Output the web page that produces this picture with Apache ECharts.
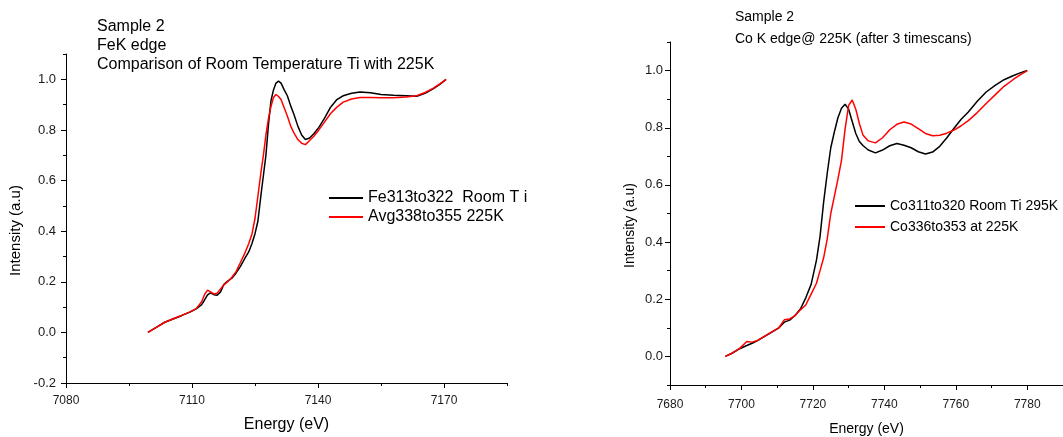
<!DOCTYPE html>
<html>
<head>
<meta charset="utf-8">
<script src="https://cdn.jsdelivr.net/npm/echarts@6/dist/echarts.min.js"></script>
<style>
html,body{margin:0;padding:0;background:#fff;}
#chart{width:1063px;height:437px;}
</style>
</head>
<body>
<div id="chart"></div>
<script>
// ---- Left chart: Fe K edge ----
const feEnergy = [7099.5, 7101.5, 7103.5, 7105.5, 7107.5, 7109.5, 7111, 7112.3, 7113, 7113.7, 7114.4, 7115.2, 7116, 7116.8, 7117.6, 7118.5, 7119.5, 7120.5, 7121.5, 7122.5, 7123.5, 7124.3, 7125, 7125.7, 7126.4, 7127, 7127.6, 7128.2, 7128.8, 7129.4, 7130, 7130.6, 7131.2, 7131.9, 7132.7, 7133.5, 7134.3, 7135.2, 7136.1, 7137, 7138, 7139, 7140.2, 7141.5, 7143, 7144.5, 7146, 7148, 7150, 7152.5, 7155, 7158, 7161, 7163.5, 7165.5, 7167.5, 7169, 7170.5];
const feRoomT = [0, 0.02, 0.04, 0.053, 0.066, 0.08, 0.093, 0.11, 0.128, 0.148, 0.156, 0.149, 0.147, 0.16, 0.19, 0.203, 0.214, 0.235, 0.26, 0.29, 0.318, 0.352, 0.39, 0.44, 0.54, 0.62, 0.7, 0.82, 0.915, 0.958, 0.985, 0.993, 0.985, 0.96, 0.935, 0.895, 0.86, 0.815, 0.78, 0.762, 0.768, 0.785, 0.81, 0.845, 0.89, 0.92, 0.935, 0.945, 0.95, 0.947, 0.94, 0.937, 0.935, 0.933, 0.945, 0.963, 0.98, 1.0];
const fe225K = [0, 0.02, 0.04, 0.054, 0.067, 0.081, 0.094, 0.121, 0.15, 0.167, 0.16, 0.152, 0.155, 0.172, 0.188, 0.2, 0.218, 0.24, 0.275, 0.31, 0.35, 0.39, 0.45, 0.54, 0.63, 0.7, 0.78, 0.845, 0.892, 0.928, 0.94, 0.932, 0.92, 0.89, 0.855, 0.815, 0.787, 0.762, 0.747, 0.742, 0.758, 0.775, 0.8, 0.83, 0.865, 0.89, 0.91, 0.922, 0.928, 0.928, 0.927, 0.927, 0.93, 0.935, 0.948, 0.965, 0.982, 1.0];
const feNames = ['Fe313to322  Room T i', 'Avg338to355 225K'];
const feTitle = 'Sample 2\nFeK edge\nComparison of Room Temperature Ti with 225K';
const feXMajor = [7080, 7110, 7140, 7170];
const feXMinor = [7095, 7125, 7155, 7185];
const feYMajor = [-0.2, 0.0, 0.2, 0.4, 0.6, 0.8, 1.0];
const feYMinor = [-0.1, 0.1, 0.3, 0.5, 0.7, 0.9, 1.1];

// ---- Right chart: Co K edge ----
const coEnergy = [7695.5, 7697.5, 7699.5, 7701.5, 7703, 7704.5, 7706.5, 7708.5, 7710.5, 7712, 7713.5, 7715, 7716.5, 7718, 7719.5, 7721, 7722, 7723, 7724, 7725, 7726, 7727, 7728, 7729, 7730, 7731, 7732, 7733, 7734, 7735.5, 7737.5, 7739.5, 7741.5, 7743.5, 7745.5, 7747.5, 7749.5, 7751.5, 7753.5, 7755.5, 7757.5, 7759.5, 7761.5, 7763.5, 7766, 7768.5, 7771, 7773.5, 7776, 7778, 7780];
const coRoomT = [0, 0.012, 0.027, 0.038, 0.046, 0.055, 0.07, 0.085, 0.1, 0.12, 0.127, 0.143, 0.166, 0.205, 0.252, 0.337, 0.42, 0.54, 0.64, 0.73, 0.785, 0.835, 0.868, 0.882, 0.865, 0.822, 0.78, 0.752, 0.738, 0.722, 0.712, 0.722, 0.737, 0.745, 0.739, 0.73, 0.716, 0.708, 0.715, 0.735, 0.765, 0.798, 0.83, 0.855, 0.893, 0.925, 0.948, 0.968, 0.982, 0.992, 1.0];
const co225K = [0, 0.012, 0.028, 0.052, 0.05, 0.056, 0.071, 0.086, 0.101, 0.128, 0.131, 0.143, 0.163, 0.18, 0.218, 0.256, 0.3, 0.345, 0.41, 0.5, 0.56, 0.62, 0.686, 0.795, 0.878, 0.897, 0.865, 0.815, 0.775, 0.754, 0.747, 0.765, 0.793, 0.812, 0.82, 0.813, 0.797, 0.78, 0.772, 0.774, 0.781, 0.792, 0.807, 0.825, 0.853, 0.885, 0.915, 0.945, 0.968, 0.985, 1.0];
const coNames = ['Co311to320 Room Ti 295K', 'Co336to353 at 225K'];
const coTitle = 'Sample 2\nCo K edge@ 225K (after 3 timescans)';
const coXMajor = [7680, 7700, 7720, 7740, 7760, 7780];
const coXMinor = [7690, 7710, 7730, 7750, 7770];
const coYMajor = [0.0, 0.2, 0.4, 0.6, 0.8, 1.0];
const coYMinor = [-0.1, 0.1, 0.3, 0.5, 0.7, 0.9, 1.1];

const FONT = '"Liberation Sans", Arial, sans-serif';
const lineCol = '#000';
const labCol = '#1a1a1a';

function pairs(xs, ys) { return xs.map((x, i) => [x, ys[i]]); }

function majorAxis(grid, min, max, vals, opts) {
  return Object.assign({
    type: 'value', gridIndex: grid, min: min, max: max,
    axisLine: { show: true, onZero: false, lineStyle: { color: lineCol, width: 1 } },
    axisTick: { show: true, customValues: vals, length: 5, lineStyle: { color: lineCol } },
    splitLine: { show: false }
  }, opts);
}
function minorAxis(grid, min, max, vals, pos) {
  return {
    type: 'value', gridIndex: grid, min: min, max: max, position: pos, offset: 0,
    axisLine: { show: false, onZero: false },
    axisTick: { show: true, customValues: vals, length: 3, lineStyle: { color: lineCol } },
    axisLabel: { show: false },
    splitLine: { show: false }
  };
}

const chart = echarts.init(document.getElementById('chart'), null, { renderer: 'canvas' });
const option = {
  backgroundColor: '#fff',
  animation: false,
  title: [
    { text: feTitle, left: 97, top: 17, padding: 0,
      textStyle: { fontSize: 16, fontWeight: 'normal', lineHeight: 19, color: '#000', fontFamily: FONT } },
    { text: coTitle, left: 735, top: 6, padding: 0,
      textStyle: { fontSize: 14, fontWeight: 'normal', lineHeight: 22, color: '#000', fontFamily: FONT } }
  ],
  legend: [
    { data: feNames, orient: 'vertical', left: 329, top: 190, padding: 0, icon: 'rect',
      itemWidth: 34, itemHeight: 2, itemGap: 3,
      textStyle: { fontSize: 16, color: '#000', fontFamily: FONT } },
    { data: coNames, orient: 'vertical', left: 855, top: 199, padding: 0, icon: 'rect',
      itemWidth: 30, itemHeight: 2, itemGap: 7,
      textStyle: { fontSize: 14, color: '#000', fontFamily: FONT } }
  ],
  grid: [
    { left: 66, top: 54, width: 441, height: 329, containLabel: false, outerBoundsMode: 'none' },
    { left: 670, top: 42, width: 393, height: 343, containLabel: false, outerBoundsMode: 'none' }
  ],
  xAxis: [
    majorAxis(0, 7080, 7185, feXMajor, {
      position: 'bottom',
      name: 'Energy (eV)', nameLocation: 'middle', nameGap: 34,
      nameTextStyle: { fontSize: 16, color: '#000', fontFamily: FONT },
      axisLabel: { show: true, customValues: feXMajor, color: labCol, fontFamily: FONT, fontSize: 12, margin: 12,
        formatter: v => String(v) }
    }),
    minorAxis(0, 7080, 7185, feXMinor, 'bottom'),
    majorAxis(1, 7680, 7790, coXMajor, {
      position: 'bottom',
      name: 'Energy (eV)', nameLocation: 'middle', nameGap: 37,
      nameTextStyle: { fontSize: 14, color: '#000', fontFamily: FONT },
      axisLabel: { show: true, customValues: coXMajor, color: labCol, fontFamily: FONT, fontSize: 12, margin: 14,
        formatter: v => String(v) }
    }),
    minorAxis(1, 7680, 7790, coXMinor, 'bottom')
  ],
  yAxis: [
    majorAxis(0, -0.2, 1.1, feYMajor, {
      position: 'left',
      name: 'Intensity (a.u)', nameLocation: 'middle', nameGap: 43,
      nameTextStyle: { fontSize: 15, color: '#000', fontFamily: FONT, padding: [0, 24, 0, 0] },
      axisLabel: { show: true, customValues: feYMajor, color: labCol, fontFamily: FONT, fontSize: 13, margin: 10,
        formatter: v => v.toFixed(1) }
    }),
    minorAxis(0, -0.2, 1.1, feYMinor, 'left'),
    majorAxis(1, -0.1, 1.1, coYMajor, {
      position: 'left',
      name: 'Intensity (a.u)', nameLocation: 'middle', nameGap: 33,
      nameTextStyle: { fontSize: 14, color: '#000', fontFamily: FONT, padding: [0, 24, 0, 0] },
      axisLabel: { show: true, customValues: coYMajor, color: labCol, fontFamily: FONT, fontSize: 13, margin: 7,
        formatter: v => v.toFixed(1) }
    }),
    minorAxis(1, -0.1, 1.1, coYMinor, 'left')
  ],
  series: [
    { name: feNames[0], type: 'line', xAxisIndex: 0, yAxisIndex: 0, data: pairs(feEnergy, feRoomT),
      showSymbol: false, symbol: 'none', color: '#000', lineStyle: { color: '#000', width: 1.5 }, z: 2 },
    { name: feNames[1], type: 'line', xAxisIndex: 0, yAxisIndex: 0, data: pairs(feEnergy, fe225K),
      showSymbol: false, symbol: 'none', color: '#ff0000', lineStyle: { color: '#ff0000', width: 1.5 }, z: 3 },
    { name: coNames[0], type: 'line', xAxisIndex: 2, yAxisIndex: 2, data: pairs(coEnergy, coRoomT),
      showSymbol: false, symbol: 'none', color: '#000', lineStyle: { color: '#000', width: 1.5 }, z: 2 },
    { name: coNames[1], type: 'line', xAxisIndex: 2, yAxisIndex: 2, data: pairs(coEnergy, co225K),
      showSymbol: false, symbol: 'none', color: '#ff0000', lineStyle: { color: '#ff0000', width: 1.5 }, z: 3 }
  ]
};
chart.setOption(option);
</script>
</body>
</html>
